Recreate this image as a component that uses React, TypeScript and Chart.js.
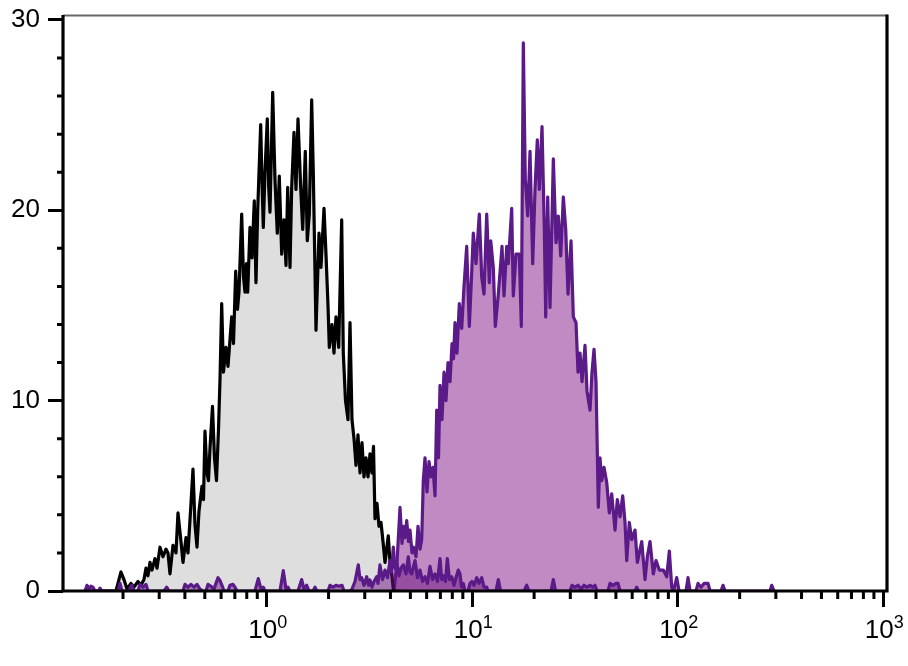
import React, { useEffect, useRef } from 'react';
import { Chart, registerables } from 'chart.js';

Chart.register(...registerables);

// ---- axis definitions ----
const xMajorTicks = [1, 10, 100, 1000];
const xTickExponents = ['0', '1', '2', '3'];
const xMinorDecades = [0.1, 1, 10, 100];
const xMinorMultipliers = [2, 3, 4, 5, 6, 7, 8, 9];
const yMajorTicks = [0, 10, 20, 30];
const yMinorTicks = [2, 4, 6, 8, 12, 14, 16, 18, 22, 24, 26, 28];
const X_MIN = 0.1021;
const X_MAX = 1042;
const Y_MAX = 30.26;

// ---- control histogram (black outline, grey fill): log10 intensity, counts ----
const blackLogX = [
  -0.8841, -0.7332, -0.7089, -0.6943, -0.6797, -0.6603, -0.6457, -0.6262, -0.6116, -0.597,
  -0.5873, -0.5775, -0.5678, -0.5581, -0.5435, -0.5337, -0.5191, -0.5045, -0.49, -0.4802,
  -0.4705, -0.4559, -0.4413, -0.4316, -0.417, -0.4072, -0.3926, -0.3829, -0.3683, -0.3586,
  -0.3489, -0.3391, -0.3294, -0.3148, -0.3075, -0.3002, -0.2905, -0.2832, -0.2759, -0.2637,
  -0.254, -0.2442, -0.2345, -0.2272, -0.2189, -0.2102, -0.198, -0.1883, -0.1703, -0.1615,
  -0.1508, -0.1421, -0.1348, -0.1216, -0.1129, -0.1056, -0.0983, -0.0924, -0.0813, -0.0715,
  -0.0603, -0.0521, -0.0438, -0.0292, -0.0229, -0.0165, -0.0083, 0.0029, 0.0097, 0.0161,
  0.0292, 0.0404, 0.0516, 0.0613, 0.073, 0.0842, 0.0939, 0.1022, 0.1134, 0.1216,
  0.1328, 0.1426, 0.1523, 0.1654, 0.1752, 0.1878, 0.1975, 0.2073, 0.2189, 0.2267,
  0.2399, 0.2545, 0.2642, 0.2788, 0.2885, 0.2983, 0.3046, 0.3177, 0.3274, 0.3372,
  0.3503, 0.3649, 0.3727, 0.3834, 0.3956, 0.4053, 0.415, 0.4248, 0.4345, 0.4442,
  0.454, 0.4637, 0.4734, 0.4831, 0.4929, 0.5026, 0.5123, 0.5196, 0.5269, 0.5367,
  0.5464, 0.5561, 0.5659, 0.5756, 0.5916, 0.5999, 0.6082, 0.6169, 0.6486,
];
const blackCounts = [
  0, 0, 1.0, 0.6, 0.1, 0.4, 0.2, 0.5, 0.3, 0.6,
  1.2, 0.8, 1.5, 1.1, 1.7, 1.2, 2.3, 1.8, 2.2, 2.0,
  0.9, 2.4, 2.0, 4.1, 2.6, 1.5, 2.8, 2.0, 4.6, 6.4,
  3.5, 2.3, 4.2, 5.5, 4.8, 8.4, 6.2, 5.8, 7.5, 9.7,
  7.0, 5.8, 8.5, 11.1, 15.1, 11.5, 12.8, 11.8, 14.4, 13.0,
  16.8, 14.8, 15.7, 19.8, 16.5, 15.7, 17.2, 15.7, 19.1, 17.5,
  20.5, 16.2, 20.0, 24.5, 21.5, 19.1, 22.0, 24.8, 21.2, 19.9,
  26.2, 21.6, 18.8, 21.8, 17.7, 19.5, 17.1, 21.2, 17.0, 21.2,
  24.1, 21.1, 24.8, 21.2, 19.0, 23.1, 18.4, 19.8, 25.8, 22.0,
  13.7, 18.8, 17.0, 20.1, 17.7, 15.0, 12.8, 14.0, 12.5, 14.4,
  12.8, 19.5, 12.5, 10.0, 9.0, 14.1, 9.0, 8.0, 6.6, 8.2,
  6.2, 7.8, 6.0, 7.0, 6.0, 7.2, 6.2, 7.6, 3.8, 4.6,
  3.4, 3.6, 2.6, 1.5, 2.9, 1.5, 0.9, 0, 0,
];

// ---- stained histogram (purple outline, orchid fill) ----
const purpleLogX = [
  0.6194, 0.634, 0.6486, 0.6583, 0.6656, 0.6729, 0.6812, 0.6899, 0.6972, 0.707,
  0.7143, 0.7264, 0.7362, 0.7459, 0.7542, 0.7619, 0.7702, 0.7799, 0.7897, 0.7994,
  0.8091, 0.8189, 0.8271, 0.8359, 0.8432, 0.8529, 0.8627, 0.8724, 0.8821, 0.8918,
  0.9016, 0.9089, 0.9162, 0.9259, 0.9371, 0.9488, 0.96, 0.9731, 0.9858, 0.9965,
  1.0052, 1.0184, 1.0344, 1.0461, 1.0573, 1.0704, 1.0831, 1.0899, 1.1025, 1.1123,
  1.1269, 1.1449, 1.1546, 1.1677, 1.1755, 1.192, 1.1998, 1.213, 1.229, 1.2388,
  1.2485, 1.2582, 1.2699, 1.2811, 1.2942, 1.3054, 1.3166, 1.3263, 1.3395, 1.3507,
  1.3575, 1.3672, 1.3784, 1.3945, 1.4076, 1.4188, 1.4305, 1.4431, 1.4548, 1.466,
  1.4806, 1.4918, 1.5049, 1.5146, 1.5244, 1.5341, 1.5487, 1.5584, 1.573, 1.5827,
  1.5925, 1.6022, 1.6134, 1.6217, 1.6299, 1.6411, 1.6543, 1.6669, 1.6786, 1.6947,
  1.7058, 1.719, 1.7321, 1.7433, 1.7516, 1.7642, 1.7759, 1.792, 1.8032, 1.8246,
  1.8406, 1.8518, 1.8649, 1.881, 1.8941, 1.9102, 1.9297, 1.9462, 1.9589, 1.9705,
  1.9793, 1.9949, 2.006, 2.0401, 2.0498, 2.0596, 2.0888, 2.0985, 2.1131, 2.1277,
  2.1471, 2.1569, 2.2104, 2.2201, 2.2299, 2.4488, 2.4571, 2.4683,
];
const purpleCounts = [
  0, 1.5, 4.4, 2.5, 3.4, 2.8, 3.7, 2.6, 3.2, 2.0,
  2.3, 1.8, 3.4, 2.2, 2.7, 5.8, 7.0, 5.2, 6.8, 6.0,
  6.5, 5.0, 9.5, 7.0, 10.8, 9.0, 11.5, 10.0, 12.0, 11.0,
  13.0, 12.2, 14.1, 12.5, 15.1, 13.8, 16.0, 18.1, 13.9, 16.5,
  18.8, 17.2, 19.8, 16.5, 15.6, 19.8, 16.2, 18.4, 17.0, 13.9,
  15.6, 18.1, 15.5, 18.1, 17.2, 20.1, 15.5, 17.7, 17.7, 13.9,
  28.8, 21.6, 19.7, 23.1, 17.2, 21.1, 23.7, 21.1, 24.4, 19.0,
  14.4, 20.7, 14.9, 22.7, 18.3, 19.7, 17.6, 20.7, 19.0, 15.6,
  18.4, 14.4, 14.1, 11.5, 12.5, 11.0, 12.9, 10.5, 9.5, 11.5,
  12.7, 11.0, 4.4, 7.0, 5.8, 6.5, 5.7, 4.1, 5.1, 3.2,
  4.8, 3.9, 5.0, 3.6, 1.6, 3.6, 2.7, 3.2, 1.5, 2.6,
  0.6, 1.8, 2.6, 0.9, 1.6, 1.1, 1.1, 0.75, 2.1, 0.2,
  0, 0.7, 0, 0, 0.7, 0, 0, 0.4, 0.2, 0.4,
  0.4, 0, 0, 0.3, 0, 0, 0.3, 0,
];

// ---- low-level overlay trace (dark purple, translucent fill) ----
const overlayLogX = [
  -0.8841, -0.8743, -0.8646, -0.8549, -0.8451, -0.8354, -0.816, -0.8111, -0.8013, -0.7235,
  -0.7138, -0.704, -0.67, -0.6568, -0.6457, -0.6262, -0.6165, -0.6019, -0.5873, -0.5775,
  -0.4997, -0.4866, -0.4754, -0.4072, -0.3975, -0.3829, -0.3683, -0.3537, -0.3391, -0.3245,
  -0.3099, -0.2953, -0.2856, -0.271, -0.2564, -0.2467, -0.237, -0.2272, -0.2175, -0.2078,
  -0.1883, -0.1786, -0.164, -0.1542, -0.1445, -0.0569, -0.0409, -0.0277, -0.0165, -0.0083,
  0.0647, 0.0808, 0.0939, 0.1036, 0.1134, 0.1523, 0.1703, 0.1815, 0.1946, 0.2058,
  0.2253, 0.235, 0.2447, 0.2983, 0.308, 0.3226, 0.3372, 0.3518, 0.3664, 0.3761,
  0.4053, 0.415, 0.4296, 0.4457, 0.454, 0.4622, 0.4734, 0.4866, 0.4953, 0.5026,
  0.5123, 0.5221, 0.5352, 0.5415, 0.5513, 0.5634, 0.5756, 0.5878, 0.5999, 0.6072,
  0.616, 0.6242, 0.6325, 0.6437, 0.6534, 0.6646, 0.6778, 0.689, 0.6972, 0.7055,
  0.7143, 0.7216, 0.7337, 0.7459, 0.7581, 0.7702, 0.7824, 0.7945, 0.8067, 0.8189,
  0.831, 0.8432, 0.8515, 0.8593, 0.87, 0.8787, 0.8894, 0.9001, 0.9113, 0.921,
  0.9322, 0.9405, 0.9478, 0.9566, 0.9648, 0.9794, 0.9892, 0.9989, 1.0086, 1.0218,
  1.0329, 1.0461, 1.0573, 1.0704, 1.0767, 1.1156, 1.1269, 1.1376, 1.2519, 1.265,
  1.2762, 1.3833, 1.3945, 1.4052, 1.4757, 1.4854, 1.5, 1.5146, 1.5292, 1.5438,
  1.5584, 1.573, 1.5876, 1.5973, 1.6071, 1.6606, 1.6703, 1.6849, 1.6995, 1.7092,
  1.719, 1.792, 1.8002, 1.809,
];
const overlayCounts = [
  0, 0.3, 0.1, 0.25, 0.2, 0, 0, 0.15, 0, 0,
  0.4, 0, 0, 0.3, 0, 0, 0.35, 0.2, 0.35, 0,
  0, 0.2, 0, 0, 0.35, 0.2, 0.35, 0.2, 0.35, 0.1,
  0, 0, 0.35, 0.25, 0.1, 0.4, 0.7, 0.55, 0.3, 0,
  0, 0.3, 0.35, 0.2, 0, 0, 0.65, 0.1, 0.2, 0,
  0, 1.07, 0.1, 0.2, 0, 0, 0.6, 0.1, 0.3, 0,
  0, 0.2, 0, 0, 0.3, 0.2, 0.3, 0.25, 0.3, 0,
  0, 0.1, 0.5, 1.37, 0.6, 0.7, 0.3, 0.75, 0.3, 0.58,
  0.2, 0.5, 0.75, 0.4, 1.37, 0.6, 1.1, 0.7, 1.6, 1.0,
  2.3, 1.2, 1.5, 0.8, 1.2, 1.37, 0.9, 1.8, 1.0, 0.9,
  1.3, 1.6, 0.7, 1.1, 0.5, 0.75, 0.4, 1.3, 0.6, 0.9,
  0.5, 1.7, 0.6, 0.8, 0.5, 1.7, 0.6, 0.75, 0.3, 0.7,
  1.1, 0.9, 0.2, 0.4, 0, 0, 0.4, 0.5, 0.3, 0.7,
  0.4, 0.7, 0.2, 0.2, 0, 0, 0.6, 0, 0, 0.3,
  0, 0, 0.6, 0, 0, 0.3, 0.2, 0.3, 0.1, 0.3,
  0.2, 0.3, 0.2, 0.3, 0, 0, 0.4, 0.3, 0.4, 0.4,
  0, 0, 0.2, 0,
];

const FONT = '"Liberation Sans", Arial, sans-serif';

const toPoints = (logX: number[], counts: number[]) =>
  logX.map((e, i) => ({ x: Math.pow(10, e), y: counts[i] }));

const framePlugin = {
  id: 'frameAndLabels',
  afterDatasetsDraw(chart: any) {
    const { ctx, chartArea: a, scales } = chart;
    const xs = scales.x;
    const ys = scales.y;
    ctx.save();
    // minor ticks
    ctx.strokeStyle = '#000';
    ctx.lineWidth = 3;
    ctx.lineCap = 'butt';
    ctx.beginPath();
    for (const d of xMinorDecades) {
      for (const m of xMinorMultipliers) {
        const v = d * m;
        if (v <= X_MIN || v >= X_MAX) continue;
        const px = xs.getPixelForValue(v);
        ctx.moveTo(px, a.bottom);
        ctx.lineTo(px, a.bottom + 8);
      }
    }
    for (const v of yMinorTicks) {
      const py = ys.getPixelForValue(v);
      ctx.moveTo(a.left - 6, py);
      ctx.lineTo(a.left, py);
    }
    ctx.stroke();
    // top border (thin grey)
    ctx.strokeStyle = '#666';
    ctx.lineWidth = 2;
    ctx.beginPath();
    ctx.moveTo(a.left, a.top + 0.5);
    ctx.lineTo(a.right, a.top + 0.5);
    ctx.stroke();
    // left, bottom, right borders
    ctx.strokeStyle = '#000';
    ctx.lineWidth = 3.2;
    ctx.beginPath();
    ctx.moveTo(a.left, a.top);
    ctx.lineTo(a.left, a.bottom + 1.6);
    ctx.moveTo(a.left - 1.6, a.bottom);
    ctx.lineTo(a.right + 1.6, a.bottom);
    ctx.moveTo(a.right, a.top - 0.5);
    ctx.lineTo(a.right, a.bottom);
    ctx.stroke();
    // x tick labels 10^n
    ctx.fillStyle = '#000';
    ctx.textAlign = 'left';
    ctx.textBaseline = 'alphabetic';
    xMajorTicks.forEach((v, i) => {
      const px = xs.getPixelForValue(v);
      const exp = xTickExponents[i];
      ctx.font = `26px ${FONT}`;
      const w1 = ctx.measureText('10').width;
      ctx.font = `18px ${FONT}`;
      const w2 = ctx.measureText(exp).width;
      const sx = px - (w1 + w2) / 2 + 1;
      ctx.font = `26px ${FONT}`;
      ctx.fillText('10', sx, a.bottom + 47);
      ctx.font = `18px ${FONT}`;
      ctx.fillText(exp, sx + w1, a.bottom + 37);
    });
    ctx.restore();
  },
};

export default function App() {
  const ref = useRef<HTMLCanvasElement>(null);

  useEffect(() => {
    if (!ref.current) return;
    const lineCommon = {
      pointRadius: 0,
      pointHoverRadius: 0,
      tension: 0,
      borderJoinStyle: 'round' as const,
      borderCapStyle: 'round' as const,
      fill: 'origin',
    };
    const chart = new Chart(ref.current, {
      type: 'line',
      data: {
        datasets: [
          {
            ...lineCommon,
            label: 'overlay',
            data: toPoints(overlayLogX, overlayCounts),
            borderColor: '#5a1a88',
            borderWidth: 3.2,
            backgroundColor: 'rgba(110, 20, 130, 0.5)',
          },
          {
            ...lineCommon,
            label: 'control',
            data: toPoints(blackLogX, blackCounts),
            borderColor: '#000000',
            borderWidth: 3.2,
            backgroundColor: '#dedede',
          },
          {
            ...lineCommon,
            label: 'stained',
            data: toPoints(purpleLogX, purpleCounts),
            borderColor: '#5a1a88',
            borderWidth: 3.2,
            backgroundColor: '#c08ac3',
          },
        ] as any,
      },
      options: {
        responsive: false,
        animation: false,
        events: [],
        layout: { padding: { top: 15, right: 21, left: 0, bottom: 0 } },
        plugins: {
          legend: { display: false },
          tooltip: { enabled: false },
          title: { display: false },
        },
        scales: {
          x: {
            type: 'logarithmic',
            position: 'bottom',
            min: X_MIN,
            max: X_MAX,
            afterBuildTicks: (s: any) => {
              s.ticks = xMajorTicks.map((v) => ({ value: v }));
            },
            afterFit: (s: any) => {
              s.height = 75;
              s.paddingLeft = 0;
              s.paddingRight = 0;
              s.paddingTop = 0;
              s.paddingBottom = 0;
            },
            ticks: { display: false, autoSkip: false },
            grid: {
              display: true,
              drawOnChartArea: false,
              drawTicks: true,
              tickLength: 16,
              tickWidth: 3,
              tickColor: '#000',
              color: '#000',
              lineWidth: 3,
            },
            border: { display: false },
          },
          y: {
            type: 'linear',
            position: 'left',
            min: 0,
            max: Y_MAX,
            afterBuildTicks: (s: any) => {
              s.ticks = yMajorTicks.map((v) => ({ value: v }));
            },
            afterFit: (s: any) => {
              s.width = 63;
              s.paddingTop = 0;
              s.paddingBottom = 0;
              s.paddingLeft = 0;
              s.paddingRight = 0;
            },
            ticks: {
              autoSkip: false,
              color: '#000',
              padding: 8,
              font: { family: FONT, size: 26 },
              callback: (v: any) => String(v),
            },
            grid: {
              display: true,
              drawOnChartArea: false,
              drawTicks: true,
              tickLength: 15,
              tickWidth: 3,
              tickColor: '#000',
              color: '#000',
              lineWidth: 3,
            },
            border: { display: false },
          },
        },
      } as any,
      plugins: [framePlugin],
    });
    return () => chart.destroy();
  }, []);

  return (
    <div
      style={{
        position: 'fixed',
        left: 0,
        top: 0,
        width: 908,
        height: 666,
        background: '#ffffff',
      }}
    >
      <canvas
        ref={ref}
        width={908}
        height={666}
        style={{ display: 'block', width: 908, height: 666 }}
      />
    </div>
  );
}
